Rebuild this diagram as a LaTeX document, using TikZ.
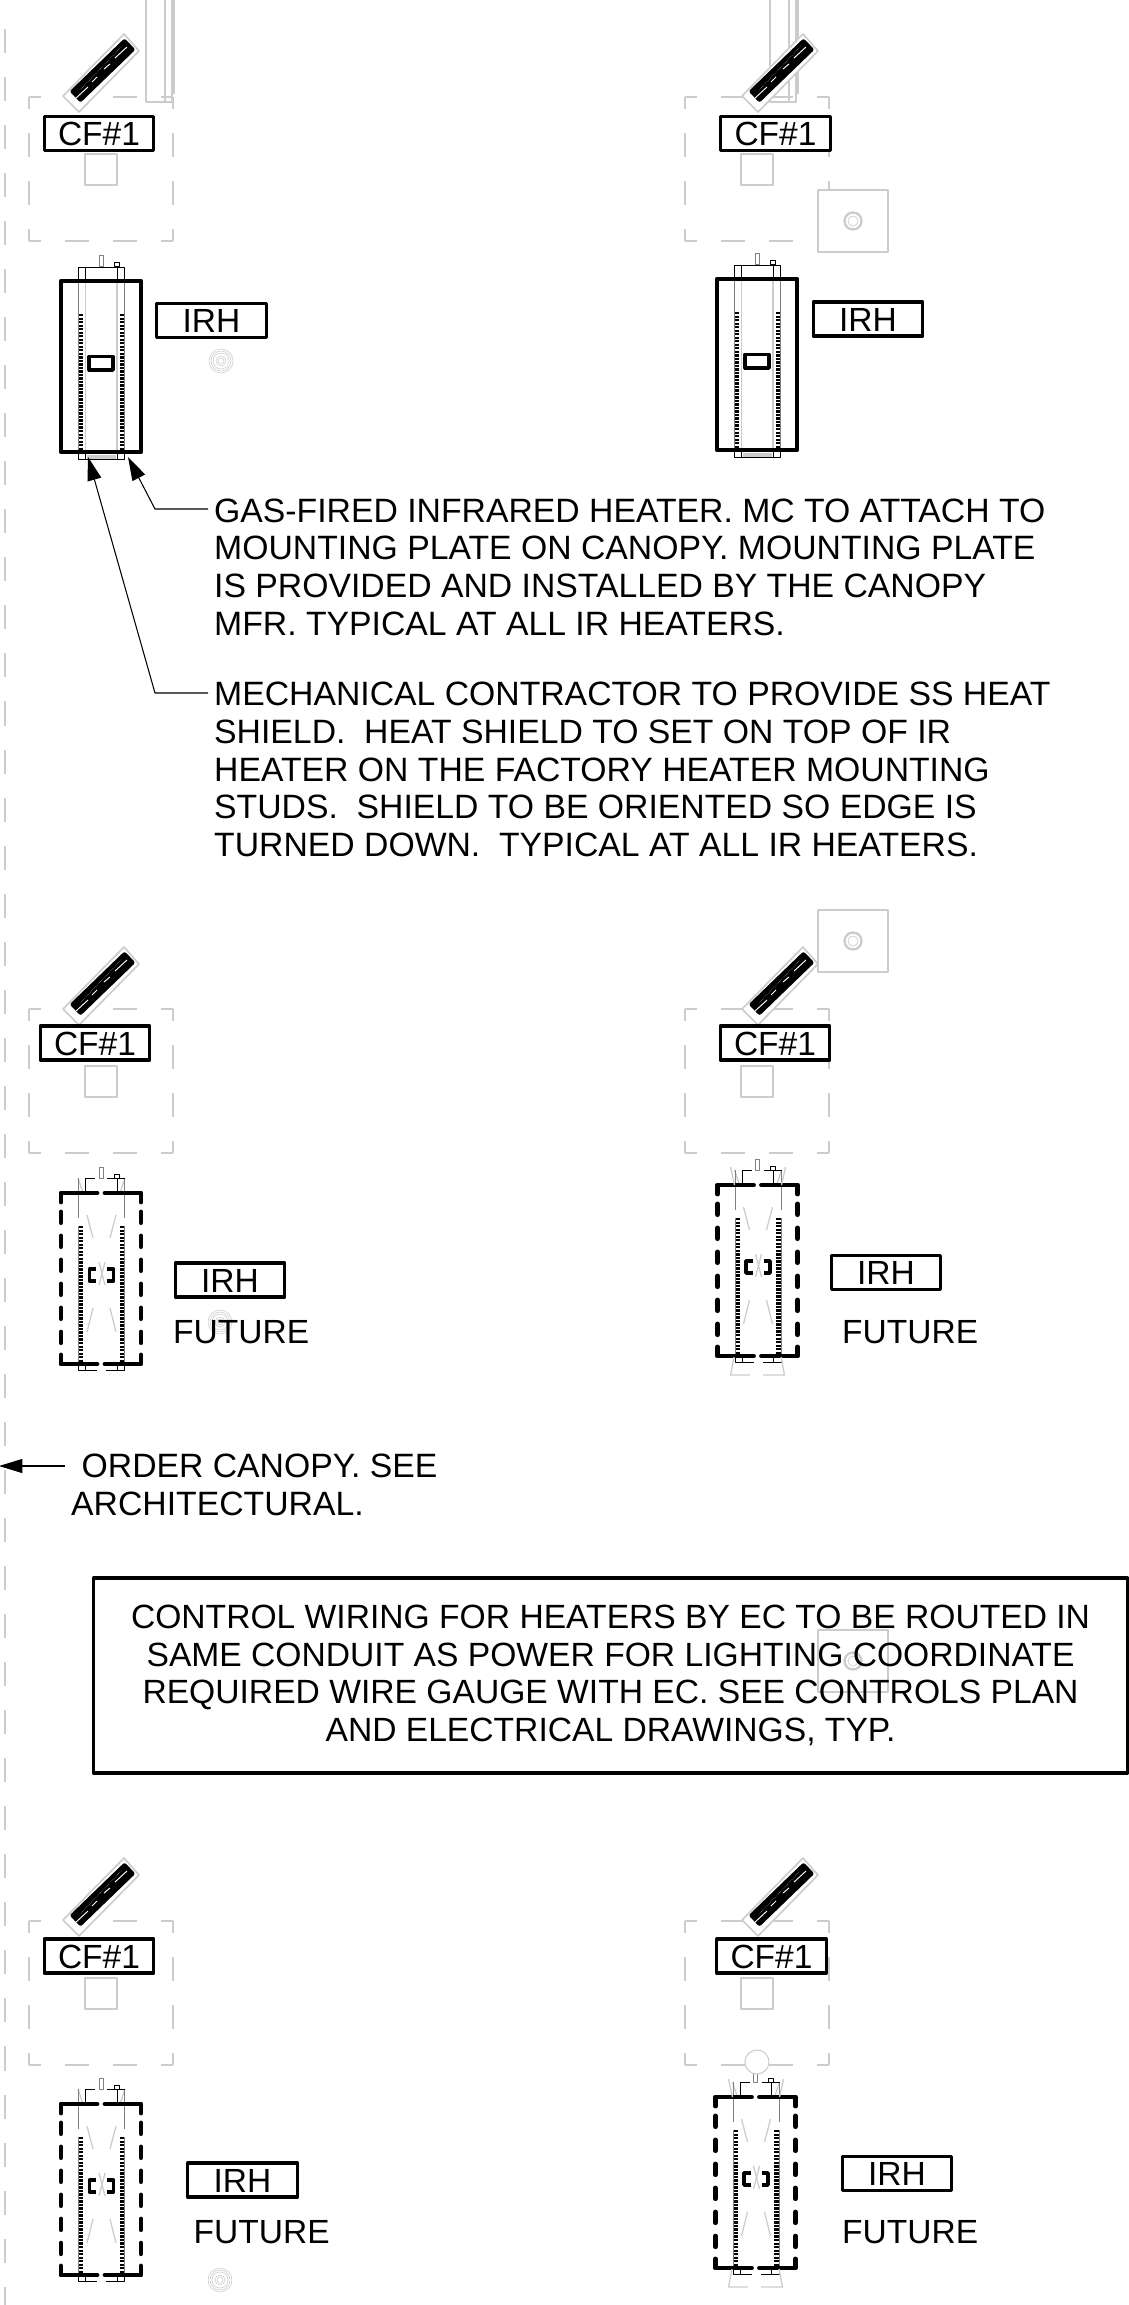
\documentclass[tikz,border=0pt]{standalone}
\usepackage{fontspec}
\setmainfont{Liberation Sans}
\usetikzlibrary{arrows.meta}
\definecolor{plangray}{gray}{0.8}
\definecolor{midgray}{gray}{0.5}
\tikzset{
	plantext/.style={font=\fontsize{28.6}{32.1}\selectfont,inner sep=0pt},
	tagbox/.style={plantext,draw,fill=white,line width=2.8pt,minimum width=3.285cm,minimum height=1.02cm,text height=20.5pt,text depth=0pt},
	notetext/.style={plantext,font=\fontsize{28.8}{32.1}\selectfont,anchor=north west,align=left},
	thickline/.style={line width=4.2pt,line cap=round},
	thinline/.style={line width=0.8pt},
	grayline/.style={plangray,line width=1.1pt},
	edgeline/.style={grayline,dash pattern=on 20.5pt off 20.5pt,dash phase=10.25pt},
	hatchline/.style={line width=4.2pt,dash pattern=on 2pt off 1pt},
	dashline/.style={thickline,dash pattern=on 9pt off 11.5pt},
	leader/.style={line width=0.9pt}
}
\begin{document}
\begin{tikzpicture}[x=0.03cm,y=-0.03cm,>={Triangle[length=20pt,width=12pt]},line join=round]
	\useasboundingbox (0,0) rectangle (1129,2305);
	\def\targetrings#1#2{
		\foreach \r in {12,10,8,5,3}
			\draw[plangray,line width=0.5pt] (#1,#2) circle[radius=\r];
	}
	\def\targetbox#1#2{
		\draw[grayline,fill=white] (#1-35,#2-31) rectangle (#1+35,#2+31);
		\draw[plangray,line width=2pt] (#1,#2) circle[radius=8.5];
		\draw[plangray,line width=0.6pt] (#1,#2) circle[radius=5];
	}
	% heater parts common to both kinds
	\def\heaterparts{
		\draw[midgray,thinline] (38,-26) rectangle (42,-15);
		\draw[thinline] (53,-19) rectangle (58,-15);
		\draw[hatchline] (20,33) -- (20,170);
		\draw[hatchline] (61,33) -- (61,170);
		\draw[midgray,thinline] (17.5,33) -- (17.5,171);
		\draw[midgray,thinline] (63.5,33) -- (63.5,171);
	}
	\def\solidheater#1#2{
		\begin{scope}[shift={(#1,#2)}]
			\heaterparts
			\draw[thinline] (17.5,-14) rectangle (63.5,0);
			\draw[thinline] (24.5,-14) -- (24.5,0);
			\draw[thinline] (56,-14) -- (56,0);
			\draw[midgray,thinline] (17.5,0) -- (17.5,33);
			\draw[midgray,thinline] (63.5,0) -- (63.5,33);
			\draw[grayline] (24.5,0) -- (24.5,171);
			\draw[grayline] (56,0) -- (56,171);
			\draw[thinline] (17.5,171) rectangle (63.5,178);
			\draw[thinline] (24.5,171) -- (24.5,178);
			\draw[thinline] (56,171) -- (56,178);
			\fill[plangray] (26,174) rectangle (55,178);
			\draw[line width=3.8pt] (0,0) rectangle (80,171);
			\draw[line width=3.2pt] (28.3,75.5) rectangle (52,89);
		\end{scope}
	}
	\def\dashedheater#1#2{
		\begin{scope}[shift={(#1,#2)}]
			\heaterparts
			\draw[grayline] (17,-15) -- (22,0);
			\draw[grayline] (64,-15) -- (59,0);
			\draw[midgray,thinline] (17.5,-15) -- (17.5,25);
			\draw[midgray,thinline] (63.5,-15) -- (63.5,25);
			\draw[thinline] (24.5,0) -- (24.5,-15) -- (34,-15);
			\draw[thinline] (46,-15) -- (64,-15);
			\draw[thinline] (56,-15) -- (56,0);
			\draw[grayline] (26,22) -- (32,45);
			\draw[grayline] (55,22) -- (49,45);
			\draw[grayline] (32,115) -- (26,139);
			\draw[grayline] (49,115) -- (55,139);
			\draw[grayline] (38,69) -- (44,92);
			\draw[grayline] (44,69) -- (38,92);
			\draw[thinline] (17.5,171) -- (17.5,177) -- (63.5,177) -- (63.5,171);
			\draw[white,line width=1.2pt] (36,177) -- (45,177);
			\draw[thinline] (24.5,171) -- (24.5,177);
			\draw[thinline] (56,171) -- (56,177);
			\draw[thickline] (0,9) -- (0,0) -- (36,0);
			\draw[thickline] (44,0) -- (80,0) -- (80,9);
			\draw[thickline] (0,162) -- (0,171) -- (36,171);
			\draw[thickline] (44,171) -- (80,171) -- (80,162);
			\draw[dashline] (0,19) -- (0,152);
			\draw[dashline] (80,19) -- (80,152);
			\draw[line width=3.2pt] (35,76) -- (28.5,76) -- (28.5,88) -- (35,88);
			\draw[line width=3.2pt] (46,76) -- (52.5,76) -- (52.5,88) -- (46,88);
		\end{scope}
	}
	% left edge line
	\draw[edgeline,dash phase=0pt] (5,29) -- (5,2305);
	% ducts
	\foreach \dx in {0,624} {
		\draw[grayline,line width=1.4pt] (146+\dx,0) -- (146+\dx,102) -- (172+\dx,102) -- (172+\dx,0);
		\draw[grayline] (165+\dx,0) -- (165+\dx,102);
		\draw[grayline] (174+\dx,0) -- (174+\dx,94);
	}
	% canopies
	\foreach \x/\y in {29/97,685/97,29/1009,685/1009,29/1921,685/1921} {
		\begin{scope}[shift={(\x,\y)}]
			\draw[edgeline] (0,0) -- (144,0);
			\draw[edgeline] (0,0) -- (0,144);
			\draw[edgeline] (144,0) -- (144,144);
			\draw[edgeline] (0,144) -- (144,144);
			\draw[plangray,line width=1.5pt] (56,57) rectangle (88,88);
		\end{scope}
	}
	% ceiling fans
	\foreach \dx/\dy in {0/0,679/0,0/913,679/913,0/1824,679/1824} {
		\begin{scope}[shift={(\dx,\dy)}]
			\draw[plangray,line width=1.4pt,fill=white] (124,34) -- (139,51) -- (79,112) -- (63,96) -- cycle;
			\draw[line width=4pt,fill=black] (80.5,99.4) -- (72.9,91.4) -- (124.5,41.6) -- (132.1,49.6) -- cycle;
			\draw[white,line width=0.8pt] (75,99) -- (88,87) (92,82) -- (97,77) (104,69) -- (110,64) (115,58) -- (127,47);
			\draw[plangray,line width=0.4pt,densely dotted] (80,90) -- (122,46);
		\end{scope}
	}
	\targetrings{221}{361}
	\targetrings{220}{1322}
	\targetrings{220}{2280}
	\targetbox{853}{221}
	\targetbox{853}{941}
	\targetbox{853}{1661}
	\solidheater{61}{281}
	\solidheater{717}{279}
	\dashedheater{61}{1193}
	\dashedheater{717.5}{1185}
	\dashedheater{61}{2104}
	\dashedheater{715.5}{2097}
	% wider outline behind the right heaters
	\foreach \x/\y in {717.5/1185,715.5/2097} {
		\begin{scope}[shift={(\x,\y)}]
			\draw[grayline] (16.5,172) -- (13,190) -- (32.5,190);
			\draw[grayline] (45.5,190) -- (67,190) -- (63.5,172);
			\draw[grayline] (13,-18) -- (17,0);
			\draw[grayline] (68,-18) -- (64,0);
		\end{scope}
	}
	\draw[plangray,line width=0.9pt,fill=white] (757,2062) circle[radius=12];
	% tags
	\foreach \nm/\x/\y in {a/99/133.5,b/775.5/133.5,c/95/1043,d/775/1043,e/99/1956,f/771.5/1956}
		\node[tagbox] (cf\nm) at (\x,\y) {CF\#1};
	\foreach \nm/\x/\y in {a/211.5/320.5,b/868/319,c/230/1280,d/886/1272.5,e/242.5/2180,f/897/2173.5}
		\node[tagbox] (irh\nm) at (\x,\y) {IRH};
	\node[plantext,anchor=base west] (futurec) at (173,1343) {FUTURE};
	\node[plantext,anchor=base west] (futured) at (842,1343) {FUTURE};
	\node[plantext,anchor=base west] (futuree) at (193.5,2243) {FUTURE};
	\node[plantext,anchor=base west] (futuref) at (842,2243) {FUTURE};
	% notes and leaders
	\node[notetext] (gasnote) at (214,498.5) {GAS-FIRED INFRARED HEATER. MC TO ATTACH TO\\MOUNTING PLATE ON CANOPY. MOUNTING PLATE\\IS PROVIDED AND INSTALLED BY THE CANOPY\\MFR. TYPICAL AT ALL IR HEATERS.};
	\node[notetext] (shieldnote) at (214,682) {MECHANICAL CONTRACTOR TO PROVIDE SS HEAT\\SHIELD.\ \ HEAT SHIELD TO SET ON TOP OF IR\\HEATER ON THE FACTORY HEATER MOUNTING\\STUDS.\ \ SHIELD TO BE ORIENTED SO EDGE IS\\TURNED DOWN.\ \ TYPICAL AT ALL IR HEATERS.};
	\node[notetext] (ordernote) at (71,1454) {\hspace*{0.31em}ORDER CANOPY. SEE\\ARCHITECTURAL.};
	\node[plantext,font=\fontsize{28.7}{32.1}\selectfont,draw,line width=2.8pt,align=center,minimum width=31.02cm,minimum height=5.85cm] (wiringnote) at (610.5,1675.5) {CONTROL WIRING FOR HEATERS BY EC TO BE ROUTED IN\\SAME CONDUIT AS POWER FOR LIGHTING COORDINATE\\REQUIRED WIRE GAUGE WITH EC. SEE CONTROLS PLAN\\AND ELECTRICAL DRAWINGS, TYP.};
	\coordinate (gasstart) at (208,509);
	\coordinate (gaselbow) at (155,509);
	\coordinate (gastip) at (128,457);
	\coordinate (shieldstart) at (208,693);
	\coordinate (shieldelbow) at (155,693);
	\coordinate (shieldtip) at (88,457);
	\coordinate (orderstart) at (65,1466);
	\coordinate (ordertip) at (-1,1466);
	\draw[leader,->] (gasstart) -- (gaselbow) -- (gastip);
	\draw[leader,->] (shieldstart) -- (shieldelbow) -- (shieldtip);
	\draw[leader,->] (orderstart) -- (ordertip);
\end{tikzpicture}
\end{document}
